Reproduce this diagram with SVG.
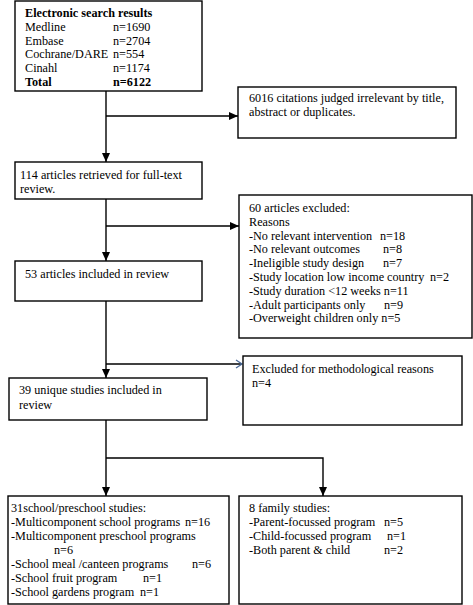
<svg xmlns="http://www.w3.org/2000/svg" width="473" height="605" viewBox="0 0 473 605">
<style>
.box{fill:#fff;stroke:#000;stroke-width:1.4}
.t{font-family:"Liberation Serif","Times New Roman",serif;font-size:12.2px;fill:#000}
.b{font-weight:bold}
.c{fill:none;stroke:#000;stroke-width:1.4}
</style>
<defs>
<marker id="ah" markerWidth="10" markerHeight="10" refX="9" refY="5" orient="auto" markerUnits="userSpaceOnUse">
<path d="M0,1 L9,5 L0,9 Z" fill="#000"/>
</marker>
<marker id="oh" markerWidth="10" markerHeight="10" refX="8" refY="5" orient="auto" markerUnits="userSpaceOnUse">
<path d="M2,1 L8,5 L2,9" fill="none" stroke="#4a6a9a" stroke-width="1.3"/>
</marker>
</defs>
<rect width="473" height="605" fill="#fff"/>

<g id="connectors">
<line class="c" x1="106" y1="91" x2="106" y2="162" marker-end="url(#ah)"/>
<line class="c" x1="106" y1="116" x2="238" y2="116" marker-end="url(#ah)"/>
<line class="c" x1="106" y1="199" x2="106" y2="261" marker-end="url(#ah)"/>
<line class="c" x1="106" y1="226" x2="239" y2="226" marker-end="url(#ah)"/>
<line class="c" x1="106" y1="301" x2="106" y2="378" marker-end="url(#ah)"/>
<line class="c" x1="106" y1="364" x2="242" y2="364" marker-end="url(#oh)"/>
<line class="c" x1="106" y1="420" x2="106" y2="496" marker-end="url(#ah)"/>
<polyline class="c" points="106,458 323,458 323,496" marker-end="url(#ah)"/>
</g>

<g id="search">
<rect class="box" x="15" y="1" width="187" height="90"/>
<text class="t b" x="25" y="17">Electronic search results</text>
<text class="t" x="25" y="31">Medline<tspan x="113">n=1690</tspan></text>
<text class="t" x="25" y="44.5">Embase<tspan x="113">n=2704</tspan></text>
<text class="t" x="25" y="58">Cochrane/DARE<tspan x="113">n=554</tspan></text>
<text class="t" x="25" y="72">Cinahl<tspan x="113">n=1174</tspan></text>
<text class="t b" x="25" y="86">Total<tspan x="113">n=6122</tspan></text>
</g>

<g id="irrelevant">
<rect class="box" x="238" y="87" width="218" height="51"/>
<text class="t" x="249" y="102">6016 citations judged irrelevant by title,</text>
<text class="t" x="249" y="116">abstract or duplicates.</text>
</g>

<g id="retrieved">
<rect class="box" x="15" y="162" width="187" height="37"/>
<text class="t" x="20" y="179">114 articles retrieved for full-text</text>
<text class="t" x="20" y="193">review.</text>
</g>

<g id="excluded60">
<rect class="box" x="239" y="195" width="233" height="143"/>
<text class="t" x="249" y="212">60 articles excluded:</text>
<text class="t" x="249" y="225.8">Reasons</text>
<text class="t" x="249" y="239.6">-No relevant intervention<tspan x="380">n=18</tspan></text>
<text class="t" x="249" y="253.4">-No relevant outcomes<tspan x="383">n=8</tspan></text>
<text class="t" x="249" y="267.2">-Ineligible study design<tspan x="383">n=7</tspan></text>
<text class="t" x="249" y="281">-Study location low income country<tspan x="430">n=2</tspan></text>
<text class="t" x="249" y="294.8">-Study duration &lt;12 weeks n=11</text>
<text class="t" x="249" y="308.6">-Adult participants only<tspan x="384">n=9</tspan></text>
<text class="t" x="249" y="322.4">-Overweight children only n=5</text>
</g>

<g id="included53">
<rect class="box" x="15" y="261" width="187" height="40"/>
<text class="t" x="25" y="278">53 articles included in review</text>
</g>

<g id="methodological">
<rect class="box" x="243" y="356" width="219" height="69"/>
<text class="t" x="252" y="373">Excluded for methodological reasons</text>
<text class="t" x="252" y="387">n=4</text>
</g>

<g id="unique39">
<rect class="box" x="9" y="378" width="198" height="42"/>
<text class="t" x="19" y="394">39 unique studies included in</text>
<text class="t" x="19" y="409">review</text>
</g>

<g id="school31">
<rect class="box" x="8" y="496" width="221" height="108"/>
<text class="t" x="11" y="512">31school/preschool studies:</text>
<text class="t" x="11" y="526">-Multicomponent school programs<tspan x="185">n=16</tspan></text>
<text class="t" x="11" y="540">-Multicomponent preschool programs</text>
<text class="t" x="54" y="554">n=6</text>
<text class="t" x="11" y="568">-School meal /canteen programs<tspan x="192">n=6</tspan></text>
<text class="t" x="11" y="582">-School fruit program<tspan x="143">n=1</tspan></text>
<text class="t" x="11" y="596">-School gardens program<tspan x="140">n=1</tspan></text>
</g>

<g id="family8">
<rect class="box" x="239" y="496" width="223" height="108"/>
<text class="t" x="249" y="512">8 family studies:</text>
<text class="t" x="249" y="526">-Parent-focussed program<tspan x="384">n=5</tspan></text>
<text class="t" x="249" y="540">-Child-focussed program<tspan x="387">n=1</tspan></text>
<text class="t" x="249" y="554">-Both parent &amp; child<tspan x="384">n=2</tspan></text>
</g>
</svg>
